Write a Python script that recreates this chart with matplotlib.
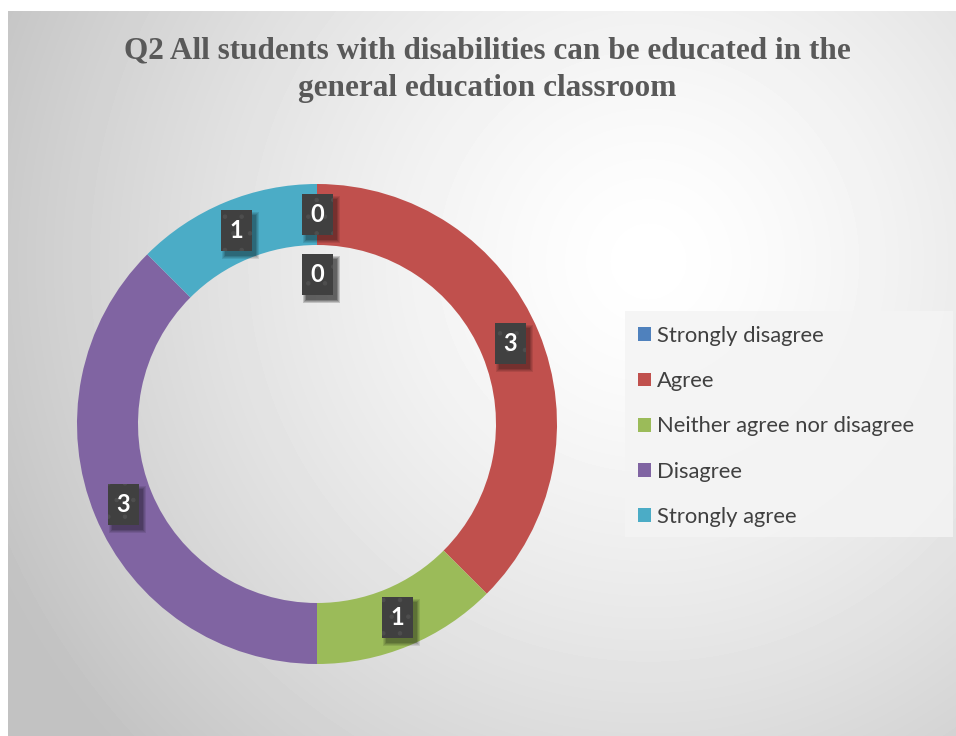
import numpy as np
import matplotlib.pyplot as plt
from matplotlib.patches import Patch, Rectangle
from matplotlib.transforms import Affine2D, ScaledTranslation

plt.rcParams['font.family'] = ['Lato', 'DejaVu Sans']
plt.rcParams['hatch.linewidth'] = 0.8

title = "Q2 All students with disabilities can be educated in the\ngeneral education classroom"
categories = ["Strongly disagree", "Agree", "Neither agree nor disagree", "Disagree", "Strongly agree"]
counts = [0, 3, 1, 3, 1]
colors = ["#4f81bd", "#c0504d", "#9bbb59", "#8064a2", "#4bacc6"]

W, H = 956, 736
fig = plt.figure(figsize=(W / 100, H / 100), dpi=100)
fig.patch.set_facecolor("white")

# chart area background: soft radial gradient
bg = fig.add_axes([8 / W, 0, (W - 8) / W, (H - 11) / H])
bg.set_axis_off()
yy, xx = np.mgrid[0:H - 11, 0:W - 8]
cx, cy = 640, 250
d = np.hypot(xx - cx, yy - cy) / 720.0
shade = 1.0 - 0.24 * np.clip(d, 0, 1) ** 1.4
bg.imshow(shade, cmap="gray", vmin=0, vmax=1, aspect="auto", interpolation="bilinear")

fig.text(487 / W, 1 - 70 / H, title, ha="center", va="center", family="Liberation Serif",
         weight="bold", fontsize=22.5, color="#595959", linespacing=1.38)

# donut
R = 240
ax = fig.add_axes([(317 - R) / W, (H - 424 - R) / H, 2 * R / W, 2 * R / H])
ax.pie(counts, colors=colors, startangle=90, counterclock=False,
       wedgeprops=dict(width=61 / R, linewidth=0))
ax.set_xlim(-1, 1)
ax.set_ylim(-1, 1)
ax.set_axis_off()


def label(x, y, s, shadow=0.35):
    bw, bh = 31, 41
    place = ScaledTranslation(x, y, ax.transData)
    for k, a in enumerate([0.10, 0.10, 0.12, 0.14]):
        grow = 3 - k
        sh = Rectangle((-bw / 2 + 4 - grow, -bh / 2 - 5 - grow), bw + 2 * grow, bh + 2 * grow,
                       transform=Affine2D() + place, facecolor="black", alpha=a * shadow / 0.35,
                       linewidth=0, zorder=3)
        ax.add_patch(sh)
    box = Rectangle((-bw / 2, -bh / 2), bw, bh, transform=Affine2D() + place,
                    facecolor="#404040", edgecolor="#4e4e4e", linewidth=0, hatch=".", zorder=4)
    ax.add_patch(box)
    ax.text(x, y, s, ha="center", va="center", color="white", fontsize=17, weight="bold", zorder=5)


total = sum(counts)
r_lab = 1 - 30.5 / R
start = 0.0
for c in counts:
    mid = (start + c / 2) / total * 2 * np.pi
    label(r_lab * np.sin(mid), r_lab * np.cos(mid), str(c))
    if c == 0:
        # overlapping zero label pushed toward the centre
        label(0, r_lab - 60 / R, str(c), shadow=0.6)
    start += c

# legend panel
fig.patches.append(Rectangle((625 / W, 1 - 537 / H), 328 / W, 226 / H, transform=fig.transFigure,
                             facecolor="#f4f4f4", alpha=0.85, edgecolor="none", zorder=1))
handles = [Patch(facecolor=col, edgecolor="none") for col in colors]
leg = fig.legend(handles, categories, loc="upper left",
                 bbox_to_anchor=(638 / W, 1 - 326 / H), fontsize=15.8, frameon=False,
                 handlelength=0.6, handleheight=0.6, handletextpad=0.28,
                 labelspacing=1.15, borderpad=0, borderaxespad=0, labelcolor="#404040")
leg.set_zorder(2)

fig.savefig("out.png", dpi=100)
